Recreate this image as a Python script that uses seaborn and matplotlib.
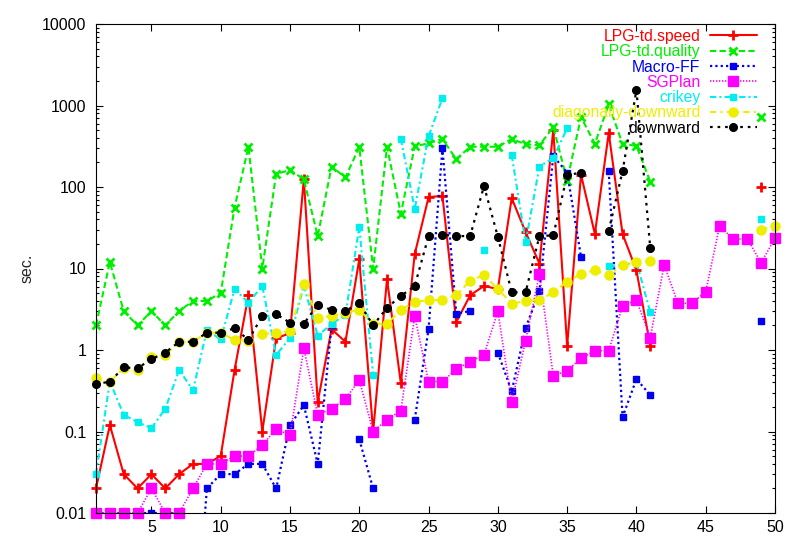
import numpy as np
import pandas as pd
import seaborn as sns
import matplotlib.pyplot as plt
from matplotlib.lines import Line2D
from matplotlib.ticker import FixedLocator, LogLocator, FuncFormatter

nan = np.nan
problems = list(range(1, 51))

# run times in seconds, one value per problem (nan = not solved)
lpg_speed = [0.02, 0.12, 0.03, 0.02, 0.03, 0.02, 0.03, 0.04, 0.04, 0.05,
             0.57, 4.7, 0.1, 1.4, 1.6, 125, 0.23, 1.8, 1.26, 13,
             0.1, 7.4, 0.39, 15, 75, 78, 2.2, 4.7, 6.1, 5.6,
             73, 28, 11.5, 500, 1.12, 142, 26.5, 460, 26.5, 9.5,
             1.12, nan, nan, nan, nan, nan, nan, nan, 100, nan]
lpg_quality = [2, 12, 3, 2, 3, 2, 3, 4, 4, 5,
               56, 310, 10, 144, 162, 124, 25, 178, 131, 310,
               10, 310, 47, 315, 344, 388, 219, 312, 312, 312,
               388, 335, 325, 545, 120, 720, 340, 1030, 337, 320,
               116, nan, nan, nan, nan, nan, nan, nan, 730, nan]
macro_ff = [0.01, 0.01, 0.01, 0.01, 0.01, 0.01, 0.01, 0.0001, 0.02, 0.03,
            0.03, 0.04, 0.04, 0.02, 0.12, 0.21, 0.04, 2.0, nan, 0.08,
            0.02, nan, nan, 0.14, 1.8, 300, 2.8, 3.0, nan, 0.93,
            0.31, 1.85, 5.3, 240, 150, 14, nan, 155, 0.15, 0.44,
            0.28, nan, nan, nan, nan, nan, nan, nan, 2.3, nan]
sgplan = [0.01, 0.01, 0.01, 0.01, 0.02, 0.01, 0.01, 0.02, 0.04, 0.04,
          0.05, 0.05, 0.068, 0.107, 0.09, 1.05, 0.16, 0.19, 0.25, 0.43,
          0.1, 0.14, 0.18, 2.6, 0.41, 0.41, 0.58, 0.72, 0.87, 3.0,
          0.23, 1.3, 8.5, 0.48, 0.56, 0.79, 0.98, 0.98, 3.47, 4.1,
          1.42, 11, 3.74, 3.74, 5.2, 33, 23, 23, 11.8, 23.5]
crikey = [0.03, 0.41, 0.16, 0.13, 0.11, 0.19, 0.57, 0.32, 1.76, 1.35,
          5.6, 3.8, 6.1, 0.87, 1.4, 6.2, 1.49, 2.1, 2.7, 32,
          0.49, nan, 390, 54, 420, 1225, nan, nan, 17, nan,
          247, 21, 178, 228, 525, nan, nan, 10.6, 11, 12,
          2.9, nan, nan, nan, nan, nan, nan, nan, 40.5, nan]
diag_down = [0.45, 0.41, 0.6, 0.57, 0.83, 0.87, 1.26, 1.26, 1.63, 1.63,
             1.33, 1.3, 1.57, 1.63, 1.71, 6.45, 2.5, 2.6, 2.87, 3.1,
             2.1, 2.1, 3.1, 3.9, 4.1, 4.1, 4.7, 7.1, 8.3, 5.6,
             3.7, 4.0, 4.1, 5.1, 6.9, 8.6, 9.5, 8.3, 11, 12,
             12.5, nan, nan, nan, nan, nan, nan, nan, 30, 33.5]
downward = [0.38, 0.41, 0.61, 0.6, 0.77, 0.93, 1.26, 1.26, 1.63, 1.63,
            1.85, 1.33, 2.6, 2.76, 2.16, 2.1, 3.6, 3.1, 3.0, 3.8,
            2.0, 3.3, 4.6, 6.1, 25, 26, 25, 25, 103, 24.5,
            5.1, 5.1, 25, 25.5, 140, 150, nan, 29, 157, 1550,
            17.7, nan, nan, nan, nan, nan, nan, nan, nan, nan]

labels = ["LPG-td.speed", "LPG-td.quality", "Macro-FF", "SGPlan",
          "crikey", "diagonally-downward", "downward"]
values = [lpg_speed, lpg_quality, macro_ff, sgplan, crikey, diag_down, downward]

# color, linestyle, linewidth, marker, markersize, marker edge width
styles = [
    ("#ff0000", "-", 1.5, "+", 7.5, 2.0),
    ("#00ee00", (0, (3, 1.6)), 1.5, "x", 6, 2.0),
    ("#0000ee", (0, (1, 1.4)), 1.6, "s", 5, 1.0),
    ("#ff00ff", (0, (0.8, 1.0)), 1.2, "s", 6.5, 1.0),
    ("#00eeee", (0, (3, 1.5, 1, 1.5)), 1.5, "s", 5, 1.0),
    ("#eeee00", (0, (3, 2, 1, 2)), 1.5, "o", 6.5, 1.0),
    ("#000000", (0, (1.2, 2.2)), 1.6, "o", 5.5, 1.0),
]

sns.set_style("ticks")
plt.rcParams["font.family"] = ["Liberation Sans", "DejaVu Sans"]

fig = plt.figure(figsize=(8.01, 5.45), dpi=100)
ax = fig.add_axes([96 / 801, 1 - 513 / 545, (775 - 96) / 801, (513 - 24) / 545])
ax.set_yscale("log")

handles = []
for label, vals, (color, ls, lw, marker, ms, mew) in zip(labels, values, styles):
    df = pd.DataFrame({"x": problems, "y": vals})
    df["seg"] = df["y"].isna().cumsum()
    df = df.dropna()
    clip = bool((df["y"] < 0.01).any())
    sns.lineplot(data=df, x="x", y="y", units="seg", estimator=None, ax=ax,
                 color=color, linestyle=ls, linewidth=lw, marker=marker,
                 markersize=ms, markeredgecolor=color, markerfacecolor=color,
                 markeredgewidth=mew, clip_on=clip, legend=False)
    handles.append(Line2D([], [], color=color, linestyle=ls, linewidth=lw,
                          marker=marker, markersize=ms, markeredgecolor=color,
                          markerfacecolor=color, markeredgewidth=mew, label=label))

ax.set_xlim(1, 50)
ax.set_ylim(0.01, 10000)
ax.xaxis.set_major_locator(FixedLocator(range(5, 51, 5)))
ax.yaxis.set_major_locator(FixedLocator([0.01, 0.1, 1, 10, 100, 1000, 10000]))
ax.yaxis.set_minor_locator(LogLocator(base=10, subs=np.arange(2, 10), numticks=20))
ax.yaxis.set_major_formatter(FuncFormatter(lambda v, p: "%g" % v))
ax.tick_params(which="both", direction="in", top=True, right=True, colors="black")
ax.tick_params(which="major", length=5, width=0.8, labelsize=11.5)
ax.tick_params(which="minor", length=2.5, width=0.8)
ax.tick_params(axis="y", pad=7)
ax.tick_params(axis="x", pad=5)
for sp in ax.spines.values():
    sp.set_color("black")
    sp.set_linewidth(0.8)

ax.set_xlabel("")
ax.set_ylabel("sec.", fontsize=11.5, labelpad=5)

ax.legend(handles=handles, loc="upper right", bbox_to_anchor=(0.9735, 0.99),
          borderaxespad=0, borderpad=0, frameon=False, markerfirst=False,
          labelcolor="linecolor", handlelength=3.0, handletextpad=0.6,
          labelspacing=0.02, fontsize=11.3, numpoints=1)

fig.savefig("out.png", dpi=100)
